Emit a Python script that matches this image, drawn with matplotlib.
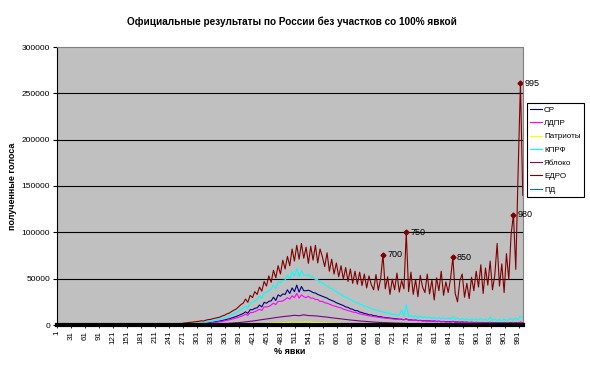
import matplotlib
matplotlib.use('Agg')
import matplotlib.pyplot as plt
from matplotlib.ticker import FuncFormatter, FixedLocator

plt.rcParams['font.family'] = ['Liberation Sans', 'DejaVu Sans']

# turnout categories in 0.1% steps (1..1000), read every 5th / every 10th
turnout_fine = list(range(250, 1001, 5))
turnout_coarse = list(range(250, 1001, 10))

# votes received, thousands
edro = [0.8, 1.0, 1.2, 1.5, 1.8, 2.0, 2.3, 2.6, 3.0, 3.3,
        3.6, 4.0, 4.5, 4.3, 5.2, 5.8, 6.0, 6.8, 7.4, 8.0,
        8.5, 9.8, 10.5, 12.0, 12.8, 14.5, 16.0, 17.2, 19.5, 22.0,
        23.5, 28.0, 24.5, 32.0, 29.5, 36.0, 33.0, 41.0, 36.5, 47.0,
        42.0, 53.0, 46.0, 59.0, 51.0, 64.0, 55.0, 70.0, 60.5, 74.0,
        64.0, 82.0, 69.0, 86.0, 71.0, 88.0, 72.0, 84.0, 66.5, 85.0,
        70.0, 86.0, 67.0, 82.0, 73.5, 63.0, 78.0, 58.0, 71.0, 55.0,
        67.0, 52.0, 64.0, 49.5, 62.0, 47.0, 60.5, 45.0, 58.0, 44.0,
        57.0, 42.5, 55.0, 40.0, 53.0, 43.5, 38.0, 54.5, 37.5, 50.0,
        76.0, 39.0, 52.0, 33.0, 49.5, 38.0, 56.0, 35.5, 48.0, 39.0,
        100.0, 36.0, 57.0, 33.0, 49.0, 30.5, 53.5, 41.0, 35.0, 55.0,
        33.5, 48.5, 27.0, 51.0, 37.0, 58.0, 32.0, 46.5, 35.0, 50.0,
        73.0, 34.0, 25.0, 48.0, 55.0, 30.0, 45.0, 28.5, 51.5, 37.0,
        58.0, 41.0, 65.0, 34.0, 61.5, 43.0, 69.0, 38.0, 54.0, 88.0,
        42.0, 66.0, 35.0, 77.0, 49.0, 98.0, 119.0, 60.0, 165.0, 261.0,
        140.0]

kprf = [0.3, 0.4, 0.5, 0.6, 0.7, 0.8, 1.0, 1.1, 1.3, 1.5,
        1.7, 2.0, 2.3, 2.6, 3.0, 3.4, 3.8, 4.3, 4.9, 5.5,
        6.2, 7.0, 7.8, 8.8, 9.8, 11.0, 12.3, 13.5, 15.0, 16.5,
        18.0, 20.5, 18.5, 24.0, 24.5, 26.0, 27.5, 31.0, 28.5, 35.0,
        35.0, 37.0, 38.5, 43.0, 39.5, 46.5, 45.5, 48.0, 48.5, 54.0,
        50.0, 57.5, 53.0, 61.0, 52.0, 59.0, 54.0, 53.5, 54.5, 52.0,
        51.5, 49.0, 49.0, 46.0, 45.5, 43.5, 42.5, 40.0, 39.5, 37.5,
        36.0, 34.0, 33.0, 31.0, 30.0, 29.0, 27.5, 26.0, 25.0, 24.0,
        22.5, 22.0, 20.5, 20.0, 18.5, 18.0, 16.5, 16.5, 15.0, 15.0,
        14.0, 13.5, 12.5, 12.5, 11.5, 11.5, 10.5, 10.8, 16.0, 9.5,
        22.0, 9.0, 10.5, 8.5, 9.8, 8.0, 9.5, 7.8, 8.8, 7.5,
        8.6, 7.0, 8.4, 6.8, 8.2, 6.6, 7.9, 6.4, 7.6, 6.3,
        9.5, 6.1, 7.3, 5.8, 7.1, 5.6, 6.8, 5.4, 6.6, 5.3,
        6.4, 5.2, 7.2, 5.0, 6.3, 4.9, 8.5, 5.0, 6.2, 4.8,
        5.9, 4.7, 6.4, 4.9, 5.9, 6.8, 5.0, 7.4, 5.8, 9.5,
        8.0]

sr = [0.2, 0.3, 0.3, 0.4, 0.5, 0.6, 0.7, 0.8, 0.9, 1.0,
      1.2, 1.4, 1.6, 1.8, 2.1, 2.4, 2.7, 3.0, 3.4, 3.8,
      4.3, 4.8, 5.4, 6.0, 6.7, 7.5, 8.3, 9.2, 10.2, 11.3,
      12.4, 14.2, 12.6, 16.5, 16.5, 18.0, 18.5, 21.5, 19.5, 24.5,
      23.5, 25.5, 26.0, 30.0, 26.5, 32.5, 31.0, 33.5, 33.0, 38.0,
      34.0, 40.0, 36.0, 43.0, 35.5, 41.5, 37.0, 37.0, 37.5, 36.5,
      35.0, 34.5, 33.0, 32.0, 31.0, 30.0, 29.0, 27.5, 26.5, 25.5,
      24.0, 23.0, 22.0, 21.0, 19.5, 19.0, 17.5, 17.0, 15.5, 15.5,
      14.0, 13.5, 12.5, 12.0, 11.0, 11.0, 10.0, 10.0, 9.0, 9.0,
      8.3, 8.0, 7.6, 7.3, 7.0, 6.8, 6.5, 6.3, 6.0, 5.8,
      6.5, 5.4, 5.6, 5.1, 5.3, 4.8, 5.0, 4.6, 4.7, 4.3,
      4.5, 4.1, 4.3, 3.9, 4.1, 3.7, 3.9, 3.5, 3.7, 3.4,
      4.0, 3.2, 3.4, 3.0, 3.3, 2.9, 3.1, 2.7, 3.0, 2.6,
      2.9, 2.5, 2.8, 2.4, 2.7, 2.3, 2.9, 2.2, 2.5, 2.1,
      2.4, 2.0, 2.3, 2.0, 2.2, 2.4, 2.0, 2.5, 2.1, 3.0,
      2.5]

ldpr = [0.2, 0.2, 0.3, 0.3, 0.4, 0.5, 0.6, 0.6, 0.7, 0.8,
        1.0, 1.1, 1.3, 1.5, 1.7, 1.9, 2.2, 2.5, 2.8, 3.1,
        3.5, 3.9, 4.4, 4.9, 5.5, 6.1, 6.8, 7.5, 8.3, 9.2,
        10.1, 11.6, 10.4, 13.5, 13.3, 14.5, 15.5, 17.0, 15.7, 19.5,
        19.5, 20.0, 21.5, 23.5, 22.0, 25.5, 25.5, 26.0, 27.5, 29.5,
        28.0, 31.5, 29.5, 34.0, 29.0, 32.5, 30.5, 29.5, 31.0, 29.0,
        29.0, 27.5, 27.5, 25.5, 25.5, 24.0, 23.5, 22.5, 21.5, 20.5,
        20.0, 19.0, 18.5, 17.0, 16.5, 15.5, 15.0, 14.0, 13.5, 13.0,
        12.0, 11.5, 11.0, 10.5, 9.8, 9.6, 9.0, 8.8, 8.3, 8.0,
        7.7, 7.4, 7.1, 6.8, 6.6, 6.3, 6.1, 5.9, 6.5, 5.5,
        6.8, 5.1, 5.4, 4.8, 5.1, 4.5, 4.8, 4.3, 4.5, 4.0,
        4.3, 3.8, 4.1, 3.6, 3.9, 3.4, 3.7, 3.2, 3.5, 3.1,
        3.8, 2.9, 3.2, 2.8, 3.1, 2.7, 2.9, 2.5, 2.8, 2.4,
        2.7, 2.3, 2.6, 2.2, 2.5, 2.1, 2.7, 2.0, 2.3, 1.9,
        2.2, 1.8, 2.1, 1.8, 2.0, 2.2, 1.8, 2.3, 1.9, 2.8,
        2.3]

yabloko = [0.1, 0.1, 0.2, 0.2, 0.3, 0.4, 0.5, 0.6, 0.8, 1.0,
           1.2, 1.5, 1.8, 2.2, 2.6, 3.1, 3.7, 4.3, 5.0, 5.8,
           6.5, 7.2, 8.0, 8.7, 9.3, 9.8, 10.5, 10.0, 11.0, 10.2,
           10.0, 9.6, 9.0, 8.5, 7.8, 7.2, 6.6, 6.0, 5.4, 4.9,
           4.4, 4.0, 3.6, 3.2, 2.9, 2.6, 2.4, 2.2, 2.0, 1.8,
           1.7, 1.5, 1.4, 1.3, 1.2, 1.1, 1.0, 0.95, 0.9, 0.85,
           0.8, 0.75, 0.7, 0.65, 0.6, 0.58, 0.55, 0.5, 0.48, 0.45,
           0.42, 0.4, 0.38, 0.4, 0.36, 0.35]

patrioty = [0.0, 0.0, 0.05, 0.05, 0.1, 0.1, 0.15, 0.2, 0.25, 0.3,
            0.4, 0.5, 0.6, 0.75, 0.9, 1.05, 1.2, 1.4, 1.6, 1.8,
            2.0, 2.2, 2.4, 2.55, 2.7, 2.8, 2.9, 2.85, 3.0, 2.9,
            2.8, 2.7, 2.55, 2.4, 2.2, 2.05, 1.9, 1.7, 1.55, 1.4,
            1.25, 1.1, 1.0, 0.9, 0.82, 0.75, 0.7, 0.64, 0.58, 0.53,
            0.5, 0.46, 0.43, 0.4, 0.38, 0.36, 0.34, 0.32, 0.3, 0.28,
            0.27, 0.26, 0.25, 0.24, 0.23, 0.22, 0.21, 0.2, 0.19, 0.18,
            0.17, 0.16, 0.16, 0.15, 0.15, 0.15]

pd_party = [0.0, 0.0, 0.0, 0.05, 0.05, 0.1, 0.1, 0.15, 0.2, 0.2,
            0.25, 0.3, 0.4, 0.45, 0.55, 0.65, 0.75, 0.85, 0.95, 1.05,
            1.15, 1.25, 1.35, 1.45, 1.5, 1.55, 1.6, 1.55, 1.6, 1.5,
            1.45, 1.35, 1.25, 1.15, 1.05, 0.95, 0.85, 0.75, 0.68, 0.6,
            0.55, 0.5, 0.45, 0.4, 0.37, 0.34, 0.31, 0.28, 0.26, 0.24,
            0.22, 0.2, 0.19, 0.18, 0.17, 0.16, 0.15, 0.14, 0.13, 0.12,
            0.12, 0.11, 0.11, 0.1, 0.1, 0.1, 0.09, 0.09, 0.09, 0.08,
            0.08, 0.08, 0.08, 0.08, 0.1, 0.1]

# categories that carry a data label on the ЕДРО line
labelled = [700, 750, 850, 980, 995]

series = [
    ('СР', turnout_fine, sr, '#000080'),
    ('ЛДПР', turnout_fine, ldpr, '#FF00FF'),
    ('Патриоты', turnout_coarse, patrioty, '#FFFF00'),
    ('КПРФ', turnout_fine, kprf, '#00FFFF'),
    ('Яблоко', turnout_coarse, yabloko, '#800080'),
    ('ЕДРО', turnout_fine, edro, '#800000'),
    ('ПД', turnout_coarse, pd_party, '#008080'),
]

fig = plt.figure(figsize=(5.9, 3.67), dpi=100)
ax = fig.add_axes([57 / 590, 1 - 325 / 367, 466 / 590, 278 / 367])
ax.set_facecolor('#C0C0C0')

for name, xs, vals, col in series:
    ax.plot(xs, [v * 1000 for v in vals], color=col, lw=0.8, label=name)

# markers + labels on the ЕДРО spikes
for c in labelled:
    v = edro[turnout_fine.index(c)] * 1000
    ax.plot([c], [v], marker='D', ms=2.5, color='#800000', lw=0)
    ax.annotate(str(c), (c, v), xytext=(3, 0), textcoords='offset points',
                va='center', ha='left', fontsize=6.5)

ax.set_xlim(0.5, 1000.5)
ax.set_ylim(0, 300000)
ax.yaxis.set_major_locator(FixedLocator(range(0, 300001, 50000)))
ax.yaxis.set_major_formatter(FuncFormatter(lambda v, p: '%d' % v))
ticks = list(range(1, 1000, 30))
ax.set_xticks(ticks)
ax.set_xticklabels([str(t) for t in ticks], rotation=90, fontsize=5.8)
ax.tick_params(axis='y', labelsize=6, length=3, width=0.8, pad=2)
ax.tick_params(axis='x', length=2, width=0.6, pad=2)

for y in range(50000, 300000, 50000):
    ax.axhline(y, color='#000000', lw=0.8, zorder=0.5)

ax.spines['left'].set_color('black')
ax.spines['bottom'].set_color('black')
ax.spines['bottom'].set_linewidth(3)
ax.spines['top'].set_color('#808080')
ax.spines['top'].set_linestyle((0, (1, 1)))
ax.spines['right'].set_color('#808080')

ax.set_ylabel('полученные голоса', fontsize=6.5, fontweight='bold', labelpad=3)
ax.set_xlabel('% явки', fontsize=6.5, fontweight='bold', labelpad=2)
fig.text(292 / 590, 1 - 22 / 367, 'Официальные результаты по России без участков со 100% явкой',
         ha='center', va='center', fontsize=7.2, fontweight='bold')

leg = ax.legend(loc='upper left', bbox_to_anchor=(527 / 590, 1 - 103 / 367),
                bbox_transform=fig.transFigure, fontsize=5.8, frameon=True,
                fancybox=False, edgecolor='black', framealpha=1,
                handlelength=1.4, labelspacing=0.7, borderpad=0.4,
                handletextpad=0.3, borderaxespad=0)
leg.get_frame().set_linewidth(0.8)

fig.savefig('out.png', dpi=100)
